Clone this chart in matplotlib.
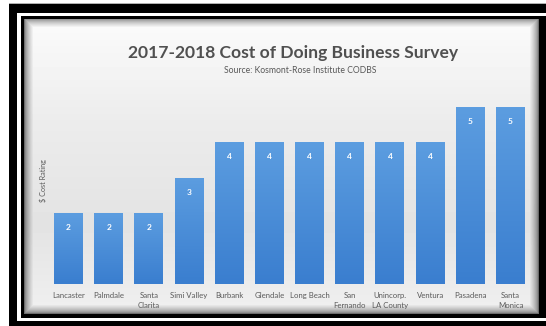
import numpy as np
import matplotlib.pyplot as plt
from matplotlib.patches import Rectangle
from matplotlib.colors import LinearSegmentedColormap

cities = ["Lancaster", "Palmdale", "Santa\nClarita", "Simi Valley", "Burbank",
          "Glendale", "Long Beach", "San\nFernando", "Unincorp.\nLA County",
          "Ventura", "Pasadena", "Santa\nMonica"]
cost_rating = [2, 2, 2, 3, 4, 4, 4, 4, 4, 4, 5, 5]

title = "2017-2018 Cost of Doing Business Survey"
subtitle = "Source: Kosmont-Rose Institute CODBS"
ylabel = "$ Cost Rating"

W, H = 546, 326
TEXT = "#595959"
FONT = ["Lato", "DejaVu Sans"]


def box(x0, y0, x1, y1):
    """pixel box (top-left origin) -> figure-fraction rect"""
    return [x0 / W, 1 - y1 / H, (x1 - x0) / W, (y1 - y0) / H]


fig = plt.figure(figsize=(W / 100, H / 100), dpi=100)
fig.patch.set_facecolor("white")

# double black frame around the panel
for (x0, y0, x1, y1), c in [((9, 3, 546, 4), "#b0b0b0"),
                            ((9, 4, 546, 326), "black"),
                            ((17, 13, 546, 321), "white"),
                            ((20.5, 15.5, 546, 318), "black")]:
    r = box(x0, y0, x1, y1)
    fig.patches.append(Rectangle((r[0], r[1]), r[2], r[3], transform=fig.transFigure,
                                 facecolor=c, edgecolor="none", zorder=0))

# panel background: soft vertical gradient with an inner shadow along the edges
px0, py0, px1, py1 = 24, 18.5, 539, 314.5
pw, ph = int(px1 - px0), int(py1 - py0)
yy = np.linspace(0, 1, ph)[:, None]
xx = np.arange(pw)[None, :]
base = np.interp(yy, [0, 0.35, 0.7, 1], [0.985, 0.925, 0.89, 0.94])
d = np.minimum.reduce([xx + 0 * yy, pw - 1 - xx + 0 * yy,
                       np.arange(ph)[:, None] + 0 * xx,
                       ph - 1 - np.arange(ph)[:, None] + 0 * xx])
edge = np.clip(d / 9.0, 0, 1) ** 0.6
shade = base * (0.45 + 0.55 * edge)
bg = fig.add_axes(box(px0, py0, px1, py1), zorder=1)
bg.imshow(shade, cmap="gray", vmin=0, vmax=1, aspect="auto", interpolation="bilinear")
bg.axis("off")

# bar axes
unit = 35.4
base_y = 284
x_left = 68.5 - 20.1
x_right = 510.5 + 20.1
ymax = 5.5
ax = fig.add_axes(box(x_left, base_y - ymax * unit, x_right, base_y), zorder=2)
ax.patch.set_alpha(0)

x = np.arange(len(cities))
bars = ax.bar(x, cost_rating, width=0.72, color="#4a8fd8", zorder=2)

blue = LinearSegmentedColormap.from_list("bar", ["#3a7ecf", "#5c9de0"])
grad = np.linspace(1, 0, 100)[:, None]
for b in bars:
    im = ax.imshow(grad, cmap=blue, aspect="auto", zorder=2.5,
                   extent=[b.get_x(), b.get_x() + b.get_width(), 0, b.get_height()])
    im.set_clip_path(b)

ax.bar_label(bars, padding=-13, color="white", fontsize=6, fontweight="bold",
             family=FONT, zorder=5)

ax.set_xlim(-0.5, len(cities) - 0.5)
ax.set_ylim(0, ymax)
ax.set_xticks(x, cities, fontsize=5.6, color=TEXT, family=FONT, linespacing=1.4)
ax.tick_params(axis="x", length=0, pad=6)
ax.set_yticks([])
for s in ax.spines.values():
    s.set_visible(False)

fig.text(293 / W, 1 - 53 / H, title, ha="center", va="center", fontsize=12.6,
         fontweight="bold", color="#505050", family=FONT, zorder=3)
fig.text(300 / W, 1 - 70.5 / H, subtitle, ha="center", va="center", fontsize=6.2,
         color=TEXT, family=FONT, zorder=3)
fig.text(43 / W, 1 - 181 / H, ylabel, ha="center", va="center", rotation=90,
         fontsize=5.2, color=TEXT, family=FONT, zorder=3)

fig.savefig("out.png", dpi=100)
